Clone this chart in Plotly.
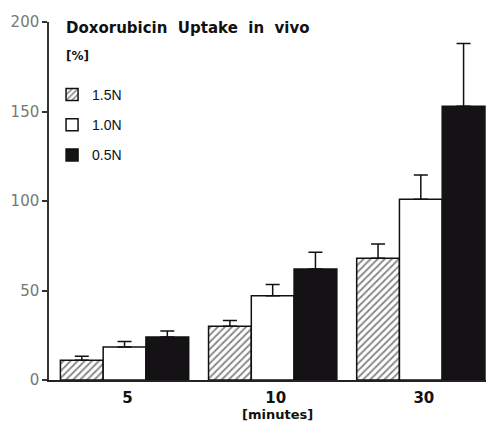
import plotly.graph_objects as go

categories = ["5", "10", "30"]
series_names = ["1.5N", "1.0N", "0.5N"]
values_15N = [11, 30, 68]
errors_15N = [2.2, 3.2, 8]
values_10N = [18.5, 47, 101]
errors_10N = [3, 6.3, 13.5]
values_05N = [24, 62, 153]
errors_05N = [3.4, 9.4, 35]
y_ticks = [0, 50, 100, 150, 200]

FONT = "DejaVu Sans, Liberation Sans, Arial, sans-serif"
FONT2 = "Liberation Sans, Arial, Helvetica, sans-serif"

fig = go.Figure()

styles = [
    dict(color="white", pattern=dict(shape="/", fgcolor="#111", bgcolor="white", size=5, solidity=0.38, fillmode="overlay")),
    dict(color="white"),
    dict(color="#141214"),
]
vals = [values_15N, values_10N, values_05N]
errs = [errors_15N, errors_10N, errors_05N]

for i, name in enumerate(series_names):
    fig.add_trace(go.Bar(
        x=categories, y=vals[i], name=name, legendgroup=name,
        marker=dict(line=dict(color="#111", width=1.5), **styles[i]),
        error_y=dict(type="data", symmetric=False, array=errs[i],
                     arrayminus=[0] * len(errs[i]), color="#111",
                     thickness=1.5, width=7),
    ))

fig.update_layout(
    width=486, height=424,
    margin=dict(l=49, r=0, t=22, b=44),
    paper_bgcolor="white", plot_bgcolor="white",
    barmode="group", bargap=0.134, bargroupgap=0,
    font=dict(family=FONT, color="#111"),
    showlegend=True,
    legend=dict(x=0.007, y=0.841, xanchor="left", yanchor="top",
                bgcolor="rgba(0,0,0,0)", font=dict(size=14, family=FONT2, color="#111"),
                tracegroupgap=9, itemclick=False),
    xaxis=dict(type="category", range=[-0.51, 2.44], showline=True,
               linecolor="#222", linewidth=1.5, ticks="", showgrid=False,
               tickfont=dict(size=15, family=FONT, color="#111", weight="bold"),
               ticklabelstandoff=3, ticklabelshift=3,
               zeroline=False),
    yaxis=dict(range=[0, 200], tickvals=y_ticks, showline=True, linecolor="#333",
               linewidth=1.5, ticks="outside", ticklen=5, tickwidth=1.5, tickcolor="#333",
               tickfont=dict(size=15, family=FONT, color="#777"), showgrid=False,
               zeroline=False),
    annotations=[
        dict(text="<b>Doxorubicin  Uptake  in  vivo</b>", xref="paper", yref="paper",
             x=0.034, y=0.983, xanchor="left", yanchor="middle", showarrow=False,
             font=dict(size=15, family=FONT, color="#111")),
        dict(text="<b>[%]</b>", xref="paper", yref="paper",
             x=0.034, y=0.905, xanchor="left", yanchor="middle", showarrow=False,
             font=dict(size=12, family=FONT, color="#111")),
        dict(text="<b>[minutes]</b>", xref="x", yref="paper",
             x=1.03, y=-0.097, xanchor="center", yanchor="middle", showarrow=False,
             font=dict(size=13, family=FONT, color="#111")),
    ],
)

# remove the default page margin so the figure fills the 486x424 window exactly
fig.write_html("out.html",
               config={"displayModeBar": False},
               post_script="document.body.style.margin='0';document.body.style.overflow='hidden';")
